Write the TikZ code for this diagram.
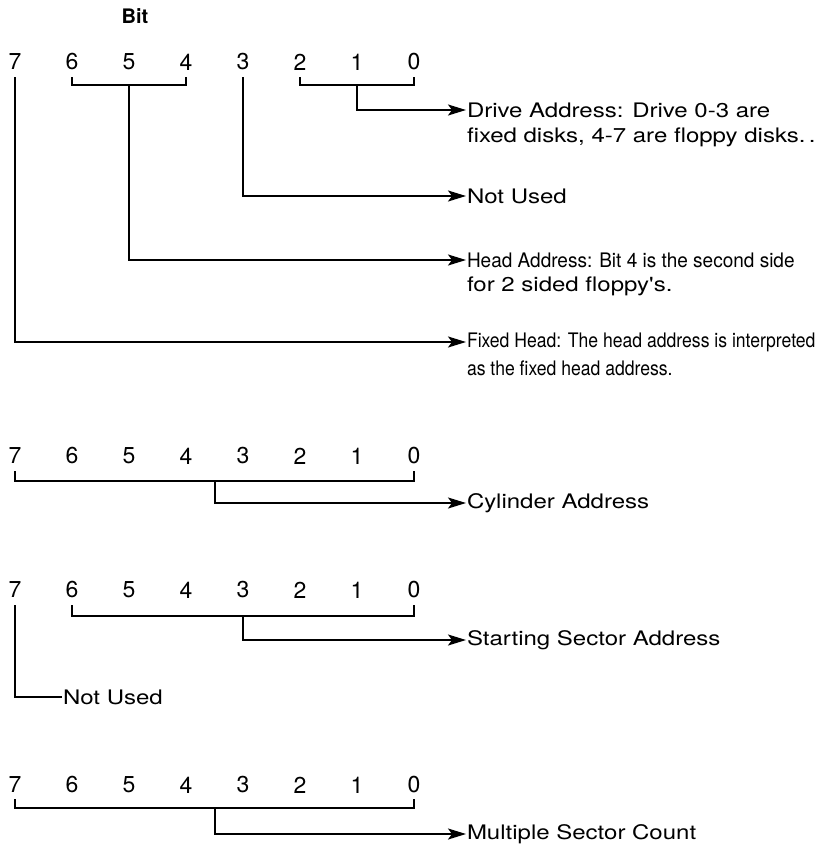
\documentclass[tikz,border=0pt]{standalone}
\usepackage{fontspec}
\setmainfont{TeX Gyre Heros}
\newfontfamily\widefont[FakeStretch=1.2]{TeX Gyre Heros}
\newfontfamily\semifont[FakeStretch=0.95]{TeX Gyre Heros}
\newfontfamily\narrowfont[FakeStretch=0.88]{TeX Gyre Heros}
\usetikzlibrary{arrows.meta}
\begin{document}
\begin{tikzpicture}[x=1pt,y=-1pt,
  line width=2pt,
  digit/.style={font=\fontsize{23}{23}\selectfont, inner sep=0pt},
  txt/.style={font=\widefont\fontsize{20}{20}\selectfont, anchor=west, inner sep=0pt},
  stxt/.style={txt, font=\semifont\fontsize{20}{20}\selectfont},
  ntxt/.style={txt, font=\narrowfont\fontsize{20}{20}\selectfont},
  arr/.style={-{Stealth[length=18pt,width=11pt,inset=4pt]}},
  ]
\useasboundingbox (0,0) rectangle (837,852);

\node[font=\fontsize{20}{20}\selectfont\bfseries, inner sep=0pt] (bit) at (135,16) {Bit};

% bit number rows
\foreach \r/\y in {1/62,2/456,3/590,4/785}{
  \foreach \b in {7,6,5,4,3,2,1,0}{
    \node[digit] (r\r b\b) at ({15+57*(7-\b)},\y) {\b};
  }
}

% tick tops and bracket levels
\coordinate (t1) at (0,77);  \coordinate (k1) at (0,85);
\coordinate (t2) at (0,471); \coordinate (k2) at (0,481);
\coordinate (t3) at (0,605); \coordinate (k3) at (0,616);
\coordinate (t4) at (0,799); \coordinate (k4) at (0,808);

% ---- byte 1 ----
\node[txt]  (drv)  at (466,110) {Drive Address: Drive 0-3 are};
\node[txt]  (drv2) at (466,137) {fixed disks, 4-7 are floppy disks.\,.};
\node[txt]  (nu1)  at (466,196) {Not Used};
\node[stxt] (hd)   at (466,260) {Head Address: Bit 4 is the second side};
\node[txt]  (hd2)  at (466,286) {for 2 sided floppy's.};
\node[ntxt] (fh)   at (466,342) {Fixed Head: The head address is interpreted};
\node[ntxt] (fh2)  at (466,368) {as the fixed head address.};

\draw (r1b2 |- t1) -- (r1b2 |- k1) -- (r1b0 |- k1) -- (r1b0 |- t1);
\draw[arr] (r1b1 |- k1) |- (drv.west);
\draw[arr] (r1b3 |- t1) |- (nu1.west);
\draw (r1b6 |- t1) -- (r1b6 |- k1) -- (r1b4 |- k1) -- (r1b4 |- t1);
\draw[arr] (r1b5 |- k1) |- (hd.west);
\draw[arr] (r1b7 |- t1) |- (fh.west);

% ---- byte 2 ----
\node[txt] (cyl) at (466,503) {Cylinder Address};
\draw (r2b7 |- t2) -- (r2b7 |- k2) -- (r2b0 |- k2) -- (r2b0 |- t2);
\coordinate (m2) at (215,481);
\draw[arr] (m2) |- (cyl.west);

% ---- byte 3 ----
\node[txt] (ssa) at (466,640) {Starting Sector Address};
\node[txt] (nu3) at (62,697) {Not Used};
\draw (r3b6 |- t3) -- (r3b6 |- k3) -- (r3b0 |- k3) -- (r3b0 |- t3);
\draw[arr] (r3b3 |- k3) |- (ssa.west);
\draw (r3b7 |- t3) |- (nu3.west);

% ---- byte 4 ----
\node[txt] (msc) at (466,834) {Multiple Sector Count};
\draw (r4b7 |- t4) -- (r4b7 |- k4) -- (r4b0 |- k4) -- (r4b0 |- t4);
\coordinate (m4) at (215,808);
\draw[arr] (m4) |- (msc.west);
\end{tikzpicture}
\end{document}
